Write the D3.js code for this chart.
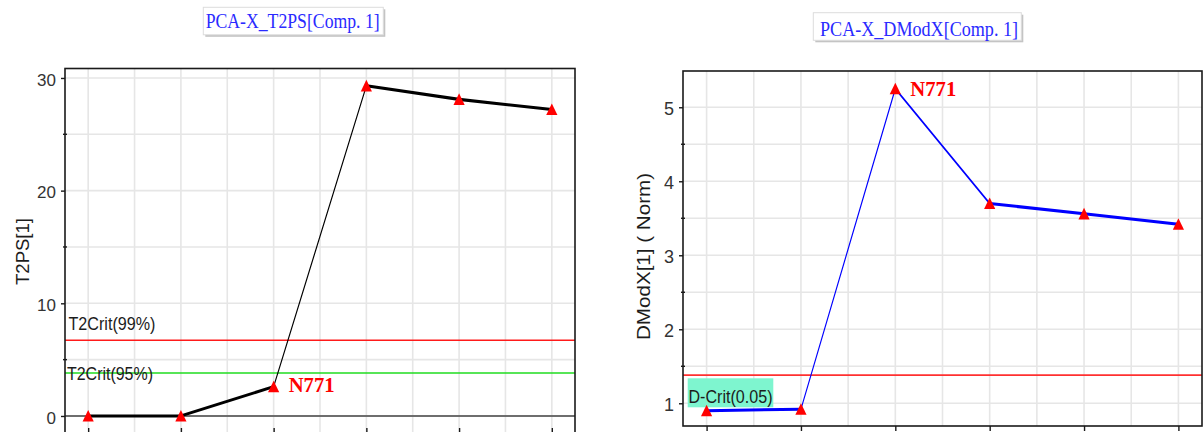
<!DOCTYPE html>
<html>
<head>
<meta charset="utf-8">
<script src="https://cdn.jsdelivr.net/npm/d3@7/dist/d3.min.js"></script>
<style>
  html, body { margin: 0; padding: 0; background: #fff; }
  svg { display: block; }
</style>
</head>
<body>
<svg id="chart" width="1203" height="432"></svg>
<script>
// Observation index along the x axis
const obsIndex = [1, 2, 3, 4, 5, 6];

// Hotelling T2 (predicted) per observation, component 1
const t2psValues = [0, 0, 2.6, 29.3, 28.1, 27.2];
// Distance to model (normalised) per observation, component 1
const dmodxValues = [0.90, 0.92, 5.25, 3.70, 3.56, 3.42];

// Critical limits
const t2Crit99 = 6.72;
const t2Crit95 = 3.82;
const dCrit = 1.38;

// Labelled observation
const labelIndex = 3;
const labelText = "N771";

// Axis ticks
const xTicks = [1, 2, 3, 4, 5, 6];
const xGrid = [1, 1.5, 2, 2.5, 3, 3.5, 4, 4.5, 5, 5.5, 6];
const t2Ticks = [0, 10, 20, 30];
const t2Grid = [0, 5, 10, 15, 20, 25, 30];
const dTicks = [1, 2, 3, 4, 5];
const dGrid = [1, 1.5, 2, 2.5, 3, 3.5, 4, 4.5, 5];

const SANS = "'Liberation Sans', Arial, sans-serif";
const SERIF = "'Liberation Serif', 'Times New Roman', serif";

const svg = d3.select("#chart");

function titleBox(x, y, w, h, text, tx, ty, tlen) {
  const g = svg.append("g");
  g.append("rect").attr("x", x + 2).attr("y", y + 2).attr("width", w).attr("height", h)
    .attr("fill", "#c4c4c4");
  g.append("rect").attr("x", x).attr("y", y).attr("width", w).attr("height", h)
    .attr("fill", "#fff").attr("stroke", "#dcdcdc").attr("stroke-width", 1);
  g.append("text").attr("x", tx).attr("y", ty)
    .attr("font-family", SERIF).attr("font-size", 20.5)
    .attr("textLength", tlen).attr("lengthAdjust", "spacingAndGlyphs")
    .attr("fill", "#2a2aff").text(text);
}

function panel(cfg) {
  const x = d3.scaleLinear().domain([0.75, 6.25]).range([cfg.left, cfg.right]);
  const y = d3.scaleLinear().domain(cfg.yDomain).range([cfg.bottom, cfg.top]);
  const g = svg.append("g");

  const clipId = "clip-" + cfg.id;
  svg.append("clipPath").attr("id", clipId).append("rect")
    .attr("x", cfg.left).attr("y", cfg.top)
    .attr("width", cfg.right - cfg.left).attr("height", cfg.bottom - cfg.top);

  // grid
  const grid = g.append("g").attr("stroke", "#e6e6e6").attr("stroke-width", 1.6);
  grid.selectAll(".gx").data(xGrid).join("line")
    .attr("x1", d => x(d)).attr("x2", d => x(d))
    .attr("y1", cfg.top).attr("y2", cfg.bottom);
  grid.selectAll(".gy").data(cfg.yGrid).join("line")
    .attr("x1", cfg.left).attr("x2", cfg.right)
    .attr("y1", d => y(d)).attr("y2", d => y(d));

  const inner = g.append("g").attr("clip-path", `url(#${clipId})`);

  // zero line
  if (cfg.zeroLine) {
    inner.append("line").attr("x1", cfg.left).attr("x2", cfg.right)
      .attr("y1", y(0)).attr("y2", y(0))
      .attr("stroke", "#444").attr("stroke-width", 1.5);
  }

  // limit lines
  cfg.limits.forEach(l => {
    inner.append("line").attr("x1", cfg.left).attr("x2", cfg.right)
      .attr("y1", y(l.value)).attr("y2", y(l.value))
      .attr("stroke", l.color).attr("stroke-width", 1.6);
  });

  // series: each segment gets a pen width that narrows with steepness
  const pts = obsIndex.map((d, i) => [x(d), y(cfg.values[i])]);
  const segs = d3.pairs(pts);
  inner.selectAll(".seg").data(segs).join("line")
    .attr("x1", d => d[0][0]).attr("y1", d => d[0][1])
    .attr("x2", d => d[1][0]).attr("y2", d => d[1][1])
    .attr("stroke", cfg.lineColor)
    .attr("stroke-linecap", "round")
    .attr("stroke-width", d => {
      const dx = d[1][0] - d[0][0], dy = d[1][1] - d[0][1];
      const c = dx / Math.hypot(dx, dy);
      return 1 + 2.1 * c * c;
    });

  // limit labels
  cfg.limits.forEach(l => {
    if (l.box) {
      inner.append("rect").attr("x", l.box.x).attr("y", l.box.y)
        .attr("width", l.box.w).attr("height", l.box.h).attr("fill", "#7ef5cf");
    }
    inner.append("text").attr("x", l.lx).attr("y", y(l.value) + l.ldy)
      .attr("font-family", SANS).attr("font-size", l.fs)
      .attr("textLength", l.tlen).attr("lengthAdjust", "spacingAndGlyphs")
      .attr("fill", "#1c1c1c").text(l.label);
  });

  // markers
  inner.selectAll(".mk").data(pts).join("path")
    .attr("transform", d => `translate(${d[0]},${d[1]})`)
    .attr("d", "M0,-6L5.6,5.6L-5.6,5.6Z")
    .attr("fill", "#ff0000");

  // observation label
  const lp = pts[obsIndex.indexOf(labelIndex)];
  g.append("text").attr("x", lp[0] + 15).attr("y", lp[1] + cfg.labelDy)
    .attr("font-family", SERIF).attr("font-weight", "bold").attr("font-size", 22)
    .attr("textLength", 46).attr("lengthAdjust", "spacingAndGlyphs")
    .attr("fill", "#ff0000").text(labelText);

  // frame
  g.append("rect").attr("x", cfg.left).attr("y", cfg.top)
    .attr("width", cfg.right - cfg.left).attr("height", cfg.bottom - cfg.top)
    .attr("fill", "none").attr("stroke", "#1a1a1a").attr("stroke-width", 1.6);

  // y axis
  const yAxis = d3.axisLeft(y).tickValues(cfg.yTicks).tickSize(4).tickPadding(5)
    .tickFormat(d3.format("d"));
  const ya = g.append("g").attr("transform", `translate(${cfg.left},0)`).call(yAxis);
  ya.select(".domain").remove();
  ya.selectAll(".tick line").attr("stroke", "#1a1a1a").attr("stroke-width", 1.4);
  ya.selectAll(".tick text").attr("font-family", SANS).attr("font-size", cfg.tickFs)
    .attr("fill", "#333").attr("dy", "0.42em");
  // minor ticks
  g.append("g").selectAll("line")
    .data(cfg.yGrid.filter(v => !cfg.yTicks.includes(v))).join("line")
    .attr("x1", cfg.left - 2).attr("x2", cfg.left + 2)
    .attr("y1", d => y(d)).attr("y2", d => y(d))
    .attr("stroke", "#1a1a1a").attr("stroke-width", 1.4);

  // x axis ticks
  const xAxis = d3.axisBottom(x).tickValues(xTicks).tickSize(cfg.xTickSize).tickFormat("");
  const xa = g.append("g").attr("transform", `translate(0,${cfg.bottom})`).call(xAxis);
  xa.select(".domain").remove();
  xa.selectAll(".tick line").attr("stroke", "#1a1a1a").attr("stroke-width", 1.4);

  // y axis title
  svg.append("text")
    .attr("transform", `translate(${cfg.titleX},${cfg.titleY}) rotate(-90)`)
    .attr("text-anchor", "middle").attr("dy", "0.35em")
    .attr("font-family", SANS).attr("font-size", 19)
    .attr("textLength", cfg.titleLen).attr("lengthAdjust", "spacingAndGlyphs")
    .attr("fill", "#1c1c1c").text(cfg.yTitle);
}

// Left panel: T2PS
panel({
  id: "t2", left: 65, right: 575, top: 68.5, bottom: 434,
  yDomain: [-1.6, 30.84], yTicks: t2Ticks, yGrid: t2Grid,
  values: t2psValues, lineColor: "#000", zeroLine: true,
  xTickSize: -6, tickFs: 17, labelDy: 5,
  limits: [
    { value: t2Crit99, color: "#ff1a1a", label: "T2Crit(99%)", lx: 68.5, ldy: -10.5, fs: 17.5, tlen: 87 },
    { value: t2Crit95, color: "#1fdc1f", label: "T2Crit(95%)", lx: 67, ldy: 7, fs: 17.5, tlen: 86 }
  ],
  yTitle: "T2PS[1]", titleX: 22.5, titleY: 251.5, titleLen: 67
});

// Right panel: DModX
panel({
  id: "dm", left: 683, right: 1202, top: 71, bottom: 426,
  yDomain: [0.693, 5.49], yTicks: dTicks, yGrid: dGrid,
  values: dmodxValues, lineColor: "#0000ff", zeroLine: false,
  xTickSize: 5, tickFs: 18, labelDy: 7,
  limits: [
    { value: dCrit, color: "#ff3030", label: "D-Crit(0.05)", lx: 688.5, ldy: 28, fs: 19, tlen: 84,
      box: { x: 687.7, y: 378.3, w: 85.6, h: 29 } }
  ],
  yTitle: "DModX[1] ( Norm)", titleX: 643, titleY: 256.5, titleLen: 167
});

titleBox(203.3, 7.3, 180, 27.5, "PCA-X_T2PS[Comp. 1]", 205.7, 28, 174);
titleBox(813.3, 12.7, 208, 27.6, "PCA-X_DModX[Comp. 1]", 820, 35.5, 198);
</script>
</body>
</html>
